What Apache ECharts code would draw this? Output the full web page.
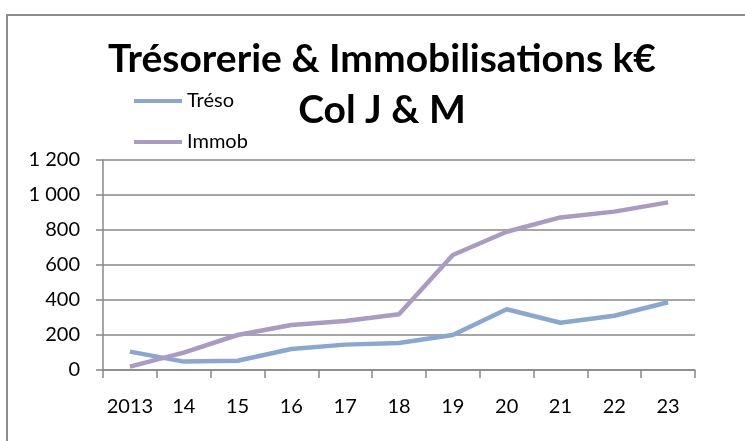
<!DOCTYPE html>
<html>
<head>
<meta charset="utf-8">
<script src="https://cdn.jsdelivr.net/npm/echarts@6/dist/echarts.min.js"></script>
<style>
  html, body { margin: 0; padding: 0; background: #fff; }
  #chart { width: 745px; height: 441px; }
</style>
</head>
<body>
<div id="chart"></div>
<script>
  // values (k€)
  const years = ['2013', '14', '15', '16', '17', '18', '19', '20', '21', '22', '23']
  const treso = [105, 48, 53, 120, 145, 154, 200, 347, 270, 310, 387]
  const immob = [19, 99, 200, 257, 280, 318, 657, 790, 872, 905, 958]
  const yTicks = [0, 200, 400, 600, 800, 1000, 1200]

  const font = 'Lato, "Open Sans", sans-serif'
  const gray = '#888888'

  const chart = echarts.init(document.getElementById('chart'))

  chart.setOption({
    backgroundColor: '#fff',
    animation: false,
    graphic: [{
      type: 'rect',
      shape: { x: 7, y: 15, width: 760, height: 460 },
      style: { fill: 'none', stroke: '#8c8c8c', lineWidth: 2 },
      silent: true
    }],
    title: {
      text: 'Trésorerie & Immobilisations k€\nCol J & M',
      left: 377,
      textAlign: 'center',
      top: 29,
      textStyle: {
        fontFamily: font,
        fontWeight: 'bold',
        fontSize: 39,
        lineHeight: 51,
        color: '#000'
      }
    },
    legend: {
      orient: 'vertical',
      left: 129,
      top: 85,
      itemWidth: 48,
      itemHeight: 4,
      itemGap: 19,
      icon: 'rect',
      textStyle: { fontFamily: font, fontSize: 20, color: '#000', lineHeight: 22 },
      data: ['Tréso', 'Immob']
    },
    grid: {
      left: 103,
      right: 50,
      top: 160,
      bottom: 71,
      containLabel: false
    },
    xAxis: {
      type: 'category',
      data: years,
      boundaryGap: true,
      axisLine: { lineStyle: { color: gray, width: 1.5 } },
      axisTick: { show: true, interval: 0, length: 8, lineStyle: { color: gray, width: 1.5 } },
      axisLabel: { margin: 27, fontFamily: font, fontSize: 20, color: '#000', interval: 0 }
    },
    yAxis: {
      type: 'value',
      min: yTicks[0],
      max: yTicks[yTicks.length - 1],
      interval: yTicks[1] - yTicks[0],
      axisLine: { show: true, lineStyle: { color: gray, width: 1.5 } },
      axisTick: { show: true, length: 7, lineStyle: { color: gray, width: 1.5 } },
      splitLine: { lineStyle: { color: gray, width: 1.5 } },
      axisLabel: {
        margin: 23,
        fontFamily: font,
        fontSize: 20,
        color: '#000',
        formatter: v => String(v).replace(/\B(?=(\d{3})+(?!\d))/g, ' ')
      }
    },
    series: [{
      name: 'Tréso',
      type: 'line',
      data: treso,
      symbol: 'none',
      color: '#8aa7d1',
      lineStyle: { width: 4.5, color: '#8aa7d1' }
    }, {
      name: 'Immob',
      type: 'line',
      data: immob,
      symbol: 'none',
      color: '#a99bc3',
      lineStyle: { width: 4.5, color: '#a99bc3' }
    }]
  })
</script>
</body>
</html>
